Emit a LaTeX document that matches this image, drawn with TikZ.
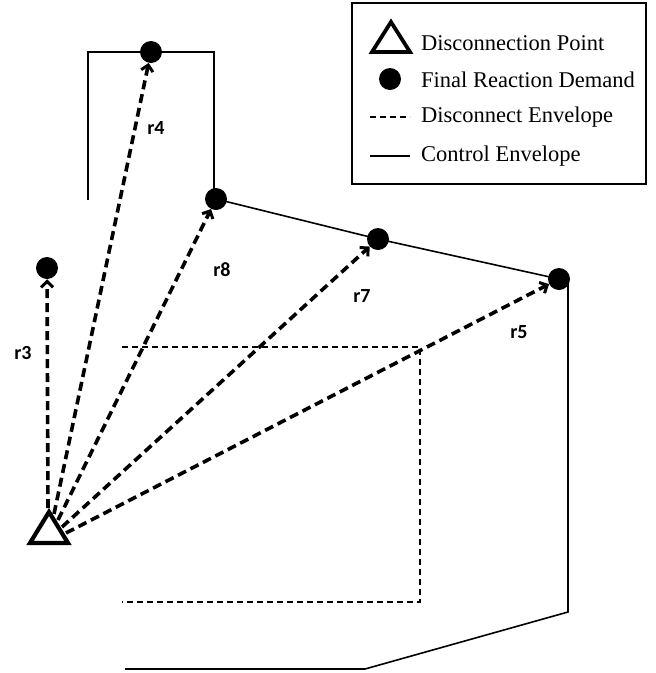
\documentclass[tikz,border=0pt]{standalone}
\usepackage{fontspec}
\setmainfont{Liberation Serif}
\newfontfamily\labelfont{Carlito}
\usetikzlibrary{arrows.meta}
\begin{document}
\begin{tikzpicture}[x=1pt,y=-1pt,
  demand/.style={circle,fill=black,inner sep=0pt,minimum size=22pt},
  reach/.style={line width=3.6pt,dash pattern=on 9pt off 5pt,
    -{Straight Barb[length=6pt,width=12pt,line width=3pt]}},
  ctrl/.style={line width=1.6pt,line join=miter},
  disc/.style={line width=1.6pt,dash pattern=on 6pt off 4pt},
  rlabel/.style={font=\labelfont\bfseries\fontsize{20}{24}\selectfont,inner sep=0pt},
  legtext/.style={font=\fontsize{22.5}{26}\selectfont,anchor=west,inner sep=0pt}]
\useasboundingbox (0,0) rectangle (656,673);

% disconnect envelope
\draw[disc] (122,347) -- (420,347) -- (420,602) -- (122,602);

% control envelope
\draw[ctrl] (88,200) -- (88,52) -- (214,52) -- (214,199);
\draw[ctrl] (216,199) -- (378,239) -- (559,279) -- (568,281) -- (568,612) -- (365,669) -- (125,669);

% final reaction demands
\node[demand] (d4) at (151,52) {};
\node[demand] (d8) at (216,199) {};
\node[demand] (d7) at (378,239) {};
\node[demand] (d5) at (559,279) {};
\node[demand] (d3) at (47,268) {};

% disconnection point
\draw[line width=4.2pt,line join=miter] (49,512) -- (68,543) -- (30,543) -- cycle;
\coordinate (s3) at (48,508);
\coordinate (s4) at (54,514);
\coordinate (s8) at (58,520);
\coordinate (s7) at (62,527);
\coordinate (s5) at (66,533);

\draw[reach] (s3) -- (d3);
\draw[reach] (s4) -- (d4);
\draw[reach] (s8) -- (d8);
\draw[reach] (s7) -- (d7);
\draw[reach] (s5) -- (d5);

\node[rlabel] (l4) at (156,128) {r4};
\node[rlabel] (l8) at (222,270) {r8};
\node[rlabel] (l7) at (362,296) {r7};
\node[rlabel] (l5) at (519,332) {r5};
\node[rlabel] (l3) at (23,353) {r3};

% legend
\node[draw,line width=1.6pt,minimum width=294pt,minimum height=181pt,anchor=north west,inner sep=0pt] (legend) at (351,2) {};
\draw[line width=3.8pt,line join=miter] (391,22) -- (410,52) -- (372,52) -- cycle;
\node[legtext] (t1) at (421,43) {Disconnection Point};
\node[demand] (ld) at (390,79) {};
\node[legtext] (t2) at (421,80) {Final Reaction Demand};
\draw[disc] (370,117) -- (410,117);
\node[legtext] (t3) at (421,117) {Disconnect Envelope};
\draw[ctrl] (370,156) -- (410,156);
\node[legtext] (t4) at (421,156) {Control Envelope};
\end{tikzpicture}
\end{document}
